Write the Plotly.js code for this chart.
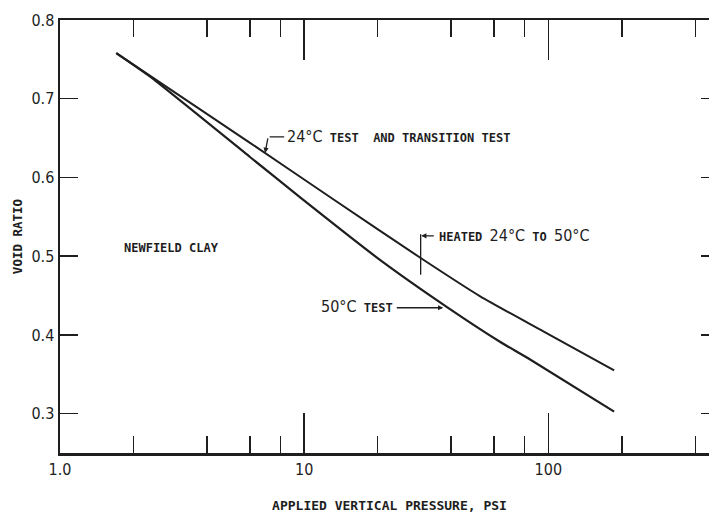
<!DOCTYPE html>
<html>
<head>
<meta charset="utf-8">
<script src="https://cdn.plot.ly/plotly-3.0.1.min.js"></script>
<style>
html,body{margin:0;padding:0;overflow:hidden;background:#fff;}
#chart{width:740px;height:513px;}
</style>
</head>
<body>
<div id="chart"></div>
<script>
// Data (pressure in psi, void ratio)
const pressure24 = [1.7, 2.34, 6.0, 13.2, 29.9, 52.6, 95.4, 186];
const voidRatio24 = [0.758, 0.729, 0.644, 0.572, 0.498, 0.449, 0.4045, 0.355];
const pressure50 = [1.7, 2.34, 6.0, 9.6, 20.5, 38.6, 63.6, 82, 186];
const voidRatio50 = [0.758, 0.728, 0.626, 0.575, 0.495, 0.435, 0.391, 0.371, 0.3025];

const xMajorTicks = [1, 10, 100];
const xMajorLabels = ['1.0', '10', '100'];
const xMinorTicks = [2, 4, 6, 8, 20, 40, 60, 80, 200, 400];
const yTicks = [0.3, 0.4, 0.5, 0.6, 0.7, 0.8];
const yLabels = ['0.3', '0.4', '0.5', '0.6', '0.7', '0.8'];

const INK = '#1e1e1e';
const LABEL_FONT = {family: 'DejaVu Sans Mono', size: 12, color: INK, weight: 'bold'};
const BIG = (t) => '<span style="font-family:DejaVu Sans Condensed;font-size:16px;font-weight:normal">' + t + '</span>';
const L = Math.log10;

const traces = [
  {x: pressure24, y: voidRatio24, mode: 'lines', name: '24°C test and transition test',
   line: {color: INK, width: 2, shape: 'spline', smoothing: 0.6}, hoverinfo: 'x+y'},
  {x: pressure50, y: voidRatio50, mode: 'lines', name: '50°C test',
   line: {color: INK, width: 2.2, shape: 'spline', smoothing: 0.5}, hoverinfo: 'x+y'}
];

const annotations = [
  {x: 0.922, y: 0.6515, xref: 'x', yref: 'y', xanchor: 'left', yanchor: 'middle', showarrow: false,
   text: BIG('24°C') + ' TEST\u00a0\u00a0AND TRANSITION TEST', font: LABEL_FONT},
  {x: 0.918, y: 0.6515, xref: 'x', yref: 'y', text: '', showarrow: true, arrowhead: 0,
   ax: -16, ay: 0, arrowwidth: 1.3, arrowcolor: INK},
  {x: 0.840, y: 0.6312, xref: 'x', yref: 'y', text: '', showarrow: true, arrowhead: 2, arrowsize: 0.8,
   ax: 3, ay: -16, arrowwidth: 1.3, arrowcolor: INK},

  {x: 1.545, y: 0.5259, xref: 'x', yref: 'y', xanchor: 'left', yanchor: 'middle', showarrow: false,
   text: 'HEATED ' + BIG('24°C') + ' TO ' + BIG('50°C'), font: LABEL_FONT},
  {x: 1.4795, y: 0.5259, xref: 'x', yref: 'y', text: '', showarrow: true, arrowhead: 2, arrowsize: 0.8,
   ax: 14, ay: 0, arrowwidth: 1.3, arrowcolor: INK},
  {x: L(30), y: 0.4764, xref: 'x', yref: 'y', text: '', showarrow: true, arrowhead: 0,
   ax: 0, ay: -42, arrowwidth: 1.3, arrowcolor: INK},

  {x: 1.373, y: 0.4358, xref: 'x', yref: 'y', xanchor: 'right', yanchor: 'middle', showarrow: false,
   text: BIG('50°C') + ' TEST', font: LABEL_FONT},
  {x: 1.5697, y: 0.4345, xref: 'x', yref: 'y', text: '', showarrow: true, arrowhead: 2, arrowsize: 0.8,
   ax: -48, ay: 0, arrowwidth: 1.3, arrowcolor: INK},

  {x: 0.254, y: 0.5107, xref: 'x', yref: 'y', xanchor: 'left', yanchor: 'middle', showarrow: false,
   text: 'NEWFIELD CLAY', font: LABEL_FONT}
];

const layout = {
  width: 740, height: 513,
  margin: {l: 60, r: 21, t: 20, b: 60},
  paper_bgcolor: '#ffffff', plot_bgcolor: '#ffffff',
  showlegend: false,
  xaxis: {
    type: 'log', range: [0, L(500)], automargin: false,
    tickmode: 'array', tickvals: xMajorTicks, ticktext: xMajorLabels,
    ticks: 'inside', ticklen: 40, tickwidth: 1.5, tickcolor: INK,
    minor: {tickmode: 'array', tickvals: xMinorTicks, ticks: 'inside', ticklen: 17, tickwidth: 1.5, tickcolor: INK, showgrid: false},
    showline: true, linewidth: 2.5, linecolor: INK, mirror: 'ticks',
    showgrid: false, zeroline: false,
    tickfont: {family: 'DejaVu Sans Condensed', size: 16, color: INK},
    title: {text: 'APPLIED VERTICAL PRESSURE, PSI', standoff: 23,
            font: {family: 'DejaVu Sans Mono', size: 13, color: INK, weight: 'bold'}}
  },
  yaxis: {
    range: [0.25, 0.8], automargin: false,
    tickmode: 'array', tickvals: yTicks, ticktext: yLabels,
    ticks: 'inside', ticklen: 18, tickwidth: 1.5, tickcolor: INK,
    showline: true, linewidth: 2.5, linecolor: INK, mirror: 'ticks',
    showgrid: false, zeroline: false,
    tickfont: {family: 'DejaVu Sans Condensed', size: 16, color: INK},
    title: {text: 'VOID RATIO', standoff: 6,
            font: {family: 'DejaVu Sans Mono', size: 12.5, color: INK, weight: 'bold'}}
  },
  annotations: annotations
};

Plotly.newPlot('chart', traces, layout, {displayModeBar: false, staticPlot: true});
</script>
</body>
</html>
